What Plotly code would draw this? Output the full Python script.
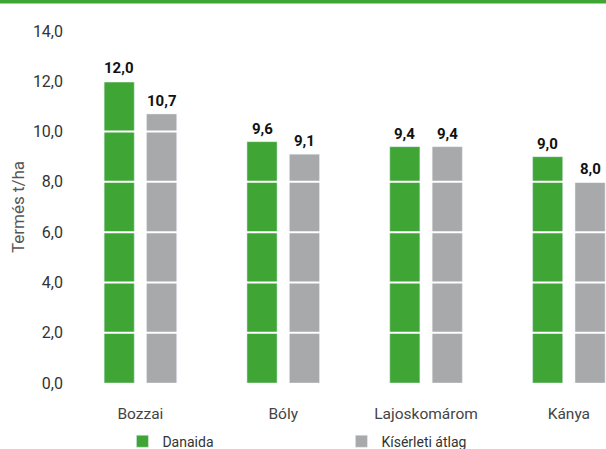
import plotly.graph_objects as go

categories = ["Bozzai", "Bóly", "Lajoskomárom", "Kánya"]
danaida = [12.0, 9.6, 9.4, 9.0]
atlag = [10.7, 9.1, 9.4, 8.0]
tick_vals = [0, 2, 4, 6, 8, 10, 12, 14]
series_names = ["Danaida", "Kísérleti átlag"]
y_title = "Termés t/ha"

GREEN = "#3fa535"
GRAY = "#a7a9ab"
LFONT = "Roboto, sans-serif"

W, H = 606, 449
ML, MR, MT, MB = 68.5, 0, 31, 66
XR = [-0.5, 3.26]
BARGAP, GROUPGAP = 0.406, 0.29

fig = go.Figure()
fig.add_trace(go.Bar(x=categories, y=danaida, name=series_names[0], marker_color=GREEN))
fig.add_trace(go.Bar(x=categories, y=atlag, name=series_names[1], marker_color=GRAY))

shapes = []
for v in tick_vals[1:-1]:
    shapes.append(dict(type="line", xref="paper", yref="y", x0=0, x1=1, y0=v, y1=v,
                       line=dict(color="white", width=2), layer="above"))
plot_h = H - MT - MB
shapes.append(dict(type="rect", xref="paper", yref="paper", x0=-1, x1=2,
                   y0=1 + (MT - 3.5) / plot_h, y1=1 + (MT + 2) / plot_h,
                   fillcolor=GREEN, line=dict(width=0), layer="above"))

# value labels as annotations so they sit above the white grid lines
px_per_cat = (W - ML - MR) / (XR[1] - XR[0])
slot = (1 - BARGAP) / 2 * px_per_cat
annotations = []
for series, sgn in ((danaida, -1), (atlag, 1)):
    for c, v in zip(categories, series):
        annotations.append(dict(x=c, y=v, xref="x", yref="y", text=f"<b>{v:.1f}</b>".replace(".", ","),
                                showarrow=False, yanchor="bottom", xshift=sgn * slot / 2, yshift=2,
                                font=dict(family=LFONT, size=15, color="#111111")))

fig.update_layout(
    width=W, height=H,
    margin=dict(l=ML, r=MR, t=MT, b=MB),
    paper_bgcolor="white", plot_bgcolor="white",
    separators=", ",
    barmode="group", bargap=BARGAP, bargroupgap=GROUPGAP,
    font=dict(family=LFONT, size=16, color="#333333"),
    shapes=shapes, annotations=annotations,
    legend=dict(orientation="h", x=0.0995, xref="paper", y=0.052, yref="container",
                xanchor="left", yanchor="top",
                entrywidth=174, font=dict(family=LFONT, size=14, color="#333333"),
                traceorder="normal"),
    yaxis=dict(range=[0, 14], tickvals=tick_vals, tickformat=".1f", showgrid=False,
               zeroline=False, showline=False, ticks="", automargin=False,
               ticklabelstandoff=5,
               tickfont=dict(family=LFONT, size=16, color="#333333"),
               title=dict(text=y_title, font=dict(family=LFONT, size=17, color="#555555"),
                          standoff=3)),
    xaxis=dict(range=XR, showgrid=False, showline=False, ticks="", automargin=False,
               ticklabelstandoff=19,
               tickfont=dict(family=LFONT, size=15.5, color="#444444")),
)

fig.write_html("out.html", config={"displayModeBar": False},
               post_script="document.body.style.margin='0';document.body.style.overflow='hidden';")
